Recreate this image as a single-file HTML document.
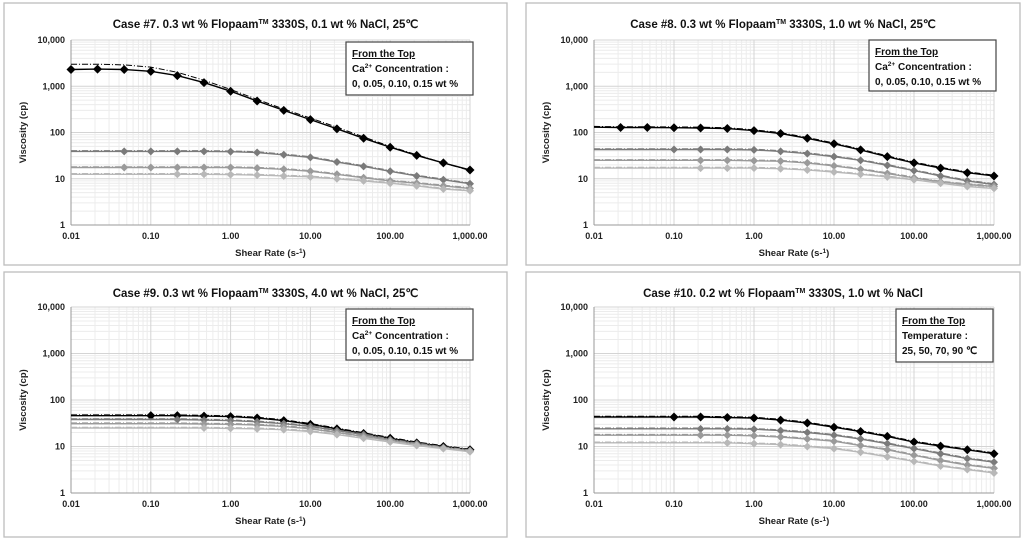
<!DOCTYPE html>
<html><head><meta charset="utf-8"><style>
body{margin:0;background:#fff;width:1024px;height:541px;overflow:hidden;font-family:"Liberation Sans",sans-serif}
svg{display:block}
</style></head><body>
<svg id="fig" width="1024" height="541" xmlns="http://www.w3.org/2000/svg"></svg>
<script>
// Shear rates (s-1) of measurement points
const rates = [0.01,0.0215,0.0464,0.1,0.215,0.464,1,2.15,4.64,10,21.5,46.4,100,215,464,1000];
// Panel 1 (Case #7)
const p1s1 = [2300,2350,2300,2100,1700,1200,780,480,300,190,120,75,48,32,22,15.5];
const p1fit = [3000,3000,2900,2600,2000,1350,850,520,320,205,130,80,50,33,22,15];
const p1s2 = [39,39,39,39,39,39,38.5,37,33,29,23,18.5,14.5,11.5,9.5,7.8];
const p1s3 = [17.5,17.5,17.5,17.5,17.5,17.5,17.5,17,16,14.5,12.5,10.5,9,8,7,6.2];
const p1s4 = [12.5,12.5,12.5,12.5,12.5,12.5,12.3,12,11.5,11,10,9,8,7,6,5.5];
// Panel 2 (Case #8)
const p2s1 = [130,128,128,127,125,122,110,95,75,57,42,30,22,17,13.5,11.5];
const p2s2 = [43,43,43,43,43,43,42,39,35,30,25,19.5,15,11.5,9,7.5];
const p2s3 = [25,25,25,25,25,25,24.5,24,22,19,16,13,10.5,8.5,7.5,6.8];
const p2s4 = [17,17,17,17,17,17,17,16.5,15.5,14,12.5,11,9.5,8,6.8,6.2];
// Panel 3 (Case #9)
const p3s1 = [46,46,46,46,46,45,44,41,36,30,24,19,15,12,10,8.5];
const p3s2 = [38,38,38,38,38,37,36,34,31,27,22,18,14,11.5,9.5,8.2];
const p3s3 = [31,31,31,31,31,30.5,30,29,27,24,20,16.5,13.5,11,9.2,8];
const p3s4 = [25,25,25,25,25,25,24.5,24,23,21,18,15,12.5,10.5,9,7.7];
// Panel 4 (Case #10)
const p4s1 = [43,43,43,43,43,42,41,37,32,26,21,16.5,12.5,10.2,8.5,7];
const p4s2 = [24,24,24,24,24,24,23.5,22,20,17.5,14.5,11.5,9,7,5.5,4.6];
const p4s3 = [17.5,17.5,17.5,17.5,17.5,17.5,17,16,14.5,13,10.5,8.5,6.5,5,4,3.4];
const p4s4 = [12,12,12,12,12,12,11.5,11,10,9,7.5,6,4.8,3.8,3.2,2.7];
const xTicks = ["0.01","0.10","1.00","10.00","100.00","1,000.00"];
const yTicks = ["1","10","100","1,000","10,000"];

const NS="http://www.w3.org/2000/svg";
const svg=document.getElementById('fig');
function mk(tag,attrs,parent){const e=document.createElementNS(NS,tag);for(const k in attrs)e.setAttribute(k,attrs[k]);(parent||svg).appendChild(e);return e;}

const colors=["#000","#7a7a7a","#9a9a9a","#b8b8b8"];
const panels=[
 {box:[4,3,503,262],plot:[71,40,470,225],title:"Case #7. 0.3 wt % Flopaam",title2:" 3330S, 0.1 wt % NaCl, 25℃",leg:[346,42,127,53],legL:["Ca","2+"," Concentration :"],legL3:"0, 0.05, 0.10, 0.15 wt %",series:[p1s1,p1s2,p1s3,p1s4],fit:p1fit,start:[0,2,2,4]},
 {box:[526,3,494,262],plot:[594,40,994,225],title:"Case #8. 0.3 wt % Flopaam",title2:" 3330S, 1.0 wt % NaCl, 25℃",leg:[869,40,127,51],legL:["Ca","2+"," Concentration :"],legL3:"0, 0.05, 0.10, 0.15 wt %",series:[p2s1,p2s2,p2s3,p2s4],start:[1,3,4,4]},
 {box:[4,272,503,265],plot:[71,307,470,493],title:"Case #9. 0.3 wt % Flopaam",title2:" 3330S, 4.0 wt % NaCl, 25℃",leg:[346,309,127,51],legL:["Ca","2+"," Concentration :"],legL3:"0, 0.05, 0.10, 0.15 wt %",series:[p3s1,p3s2,p3s3,p3s4],start:[3,4,5,5]},
 {box:[526,272,494,265],plot:[594,307,994,493],title:"Case #10. 0.2 wt % Flopaam",title2:" 3330S, 1.0 wt % NaCl",leg:[896,309,97,53],legL:["Temperature :","",""],legL3:"25, 50, 70, 90 ℃",series:[p4s1,p4s2,p4s3,p4s4],start:[3,4,4,5]}
];

panels.forEach((P,pi)=>{
  const g=mk('g',{});
  
  
  const b=mk('rect',{x:P.box[0],y:P.box[1],width:P.box[2],height:P.box[3],fill:'#fff',stroke:'#bdbdbd','stroke-width':1.3},g);
  
  const [x0,y0,x1,y1]=P.plot;
  const xs=v=>x0+(Math.log10(v)+2)/5*(x1-x0);
  const ys=v=>y1-Math.log10(v)/4*(y1-y0);
  const grid=mk('g',{},g);
  
  for(let d=-2;d<3;d++)for(let m=2;m<10;m++){const X=xs(m*Math.pow(10,d));mk('line',{x1:X,x2:X,y1:y0,y2:y1,stroke:'#ececec','stroke-width':1},grid);}
  for(let d=0;d<4;d++)for(let m=2;m<10;m++){const Y=ys(m*Math.pow(10,d));mk('line',{x1:x0,x2:x1,y1:Y,y2:Y,stroke:'#ececec','stroke-width':1},grid);}
  xTicks.forEach((t,i)=>{const X=xs(Math.pow(10,i-2));mk('line',{x1:X,x2:X,y1:y0,y2:y1,stroke:'#d4d4d4','stroke-width':1},grid);
    const tx=mk('text',{x:X,y:y1+14,'font-size':9,'font-weight':'bold','text-anchor':'middle',fill:'#222'},g);tx.textContent=t;
    });
  yTicks.forEach((t,i)=>{const Y=ys(Math.pow(10,i));mk('line',{x1:x0,x2:x1,y1:Y,y2:Y,stroke:'#d4d4d4','stroke-width':1},grid);
    const tx=mk('text',{x:x0-6,y:Y+3,'font-size':9,'font-weight':'bold','text-anchor':'end',fill:'#222'},g);tx.textContent=t;
    });
  mk('line',{x1:x0,x2:x0,y1:y0,y2:y1,stroke:'#999'},g);
  mk('line',{x1:x0,x2:x1,y1:y1,y2:y1,stroke:'#999'},g);
  // title
  const cx=(x0+x1)/2+(pi%2?0:0);
  const tt=mk('text',{x:(P.box[0]+P.box[0]+P.box[2])/2+10,y:P.box[1]+25,'font-size':11.5,'font-weight':'bold','text-anchor':'middle',fill:'#111'},g);
  
  tt.appendChild(document.createTextNode(P.title));
  const sup=mk('tspan',{'font-size':7,dy:-4},tt);sup.textContent='TM';
  const rest=mk('tspan',{dy:4},tt);rest.textContent=P.title2;
  // axis titles
  const xt=mk('text',{x:(x0+x1)/2,y:y1+31,'font-size':9.5,'font-weight':'bold','text-anchor':'middle',fill:'#222'},g);
  
  xt.appendChild(document.createTextNode('Shear Rate (s-'));const s1=mk('tspan',{'font-size':6.5,dy:-3},xt);s1.textContent='1';const s2=mk('tspan',{dy:3},xt);s2.textContent=')';
  const yt=mk('text',{x:0,y:0,'font-size':9.5,'font-weight':'bold','text-anchor':'middle',fill:'#222',transform:`translate(${x0-45},${(y0+y1)/2}) rotate(-90)`},g);
  yt.textContent='Viscosity (cp)';
  // series
  P.series.forEach((s,si)=>{
    const sg=mk('g',{},g);
    
    const pts=s.map((v,i)=>xs(rates[i]).toFixed(1)+','+ys(v).toFixed(1)).join(' ');
    const fitArr=(si===0&&P.fit)?P.fit:s.map(v=>v*1.04);
    const fpts=fitArr.map((v,i)=>xs(rates[i]).toFixed(1)+','+ys(v).toFixed(1)).join(' ');
    const fl=mk('polyline',{points:fpts,fill:'none',stroke:colors[si],'stroke-width':1,'stroke-dasharray':'6,2,1,2'},sg);
    
    const pl=mk('polyline',{points:pts,fill:'none',stroke:colors[si],'stroke-width':1.4},sg);
    
    s.forEach((v,i)=>{ if(i<P.start[si])return; const X=xs(rates[i]),Y=ys(v),r=si===0?4.5:4;
      const m=mk('polygon',{points:`${X},${Y-r} ${X+r},${Y} ${X},${Y+r} ${X-r},${Y}`,fill:colors[si]},sg);
      });
  });
  // legend box
  const L=P.leg;
  const lg=mk('g',{},g);
  mk('rect',{x:L[0],y:L[1],width:L[2],height:L[3],fill:'#fff',stroke:'#444','stroke-width':1.2},lg);
  const l1=mk('text',{x:L[0]+6,y:L[1]+15,'font-size':10,'font-weight':'bold','text-decoration':'underline',fill:'#111'},lg);l1.textContent='From the Top';
  const l2=mk('text',{x:L[0]+6,y:L[1]+30,'font-size':10,'font-weight':'bold',fill:'#111'},lg);
  l2.appendChild(document.createTextNode(P.legL[0]));
  if(P.legL[1]){const sp=mk('tspan',{'font-size':6.5,dy:-4},l2);sp.textContent=P.legL[1];const sp2=mk('tspan',{dy:4},l2);sp2.textContent=P.legL[2];}
  const l3=mk('text',{x:L[0]+6,y:L[1]+45,'font-size':10,'font-weight':'bold',fill:'#111'},lg);l3.textContent=P.legL3;
});
</script>
</body></html>
